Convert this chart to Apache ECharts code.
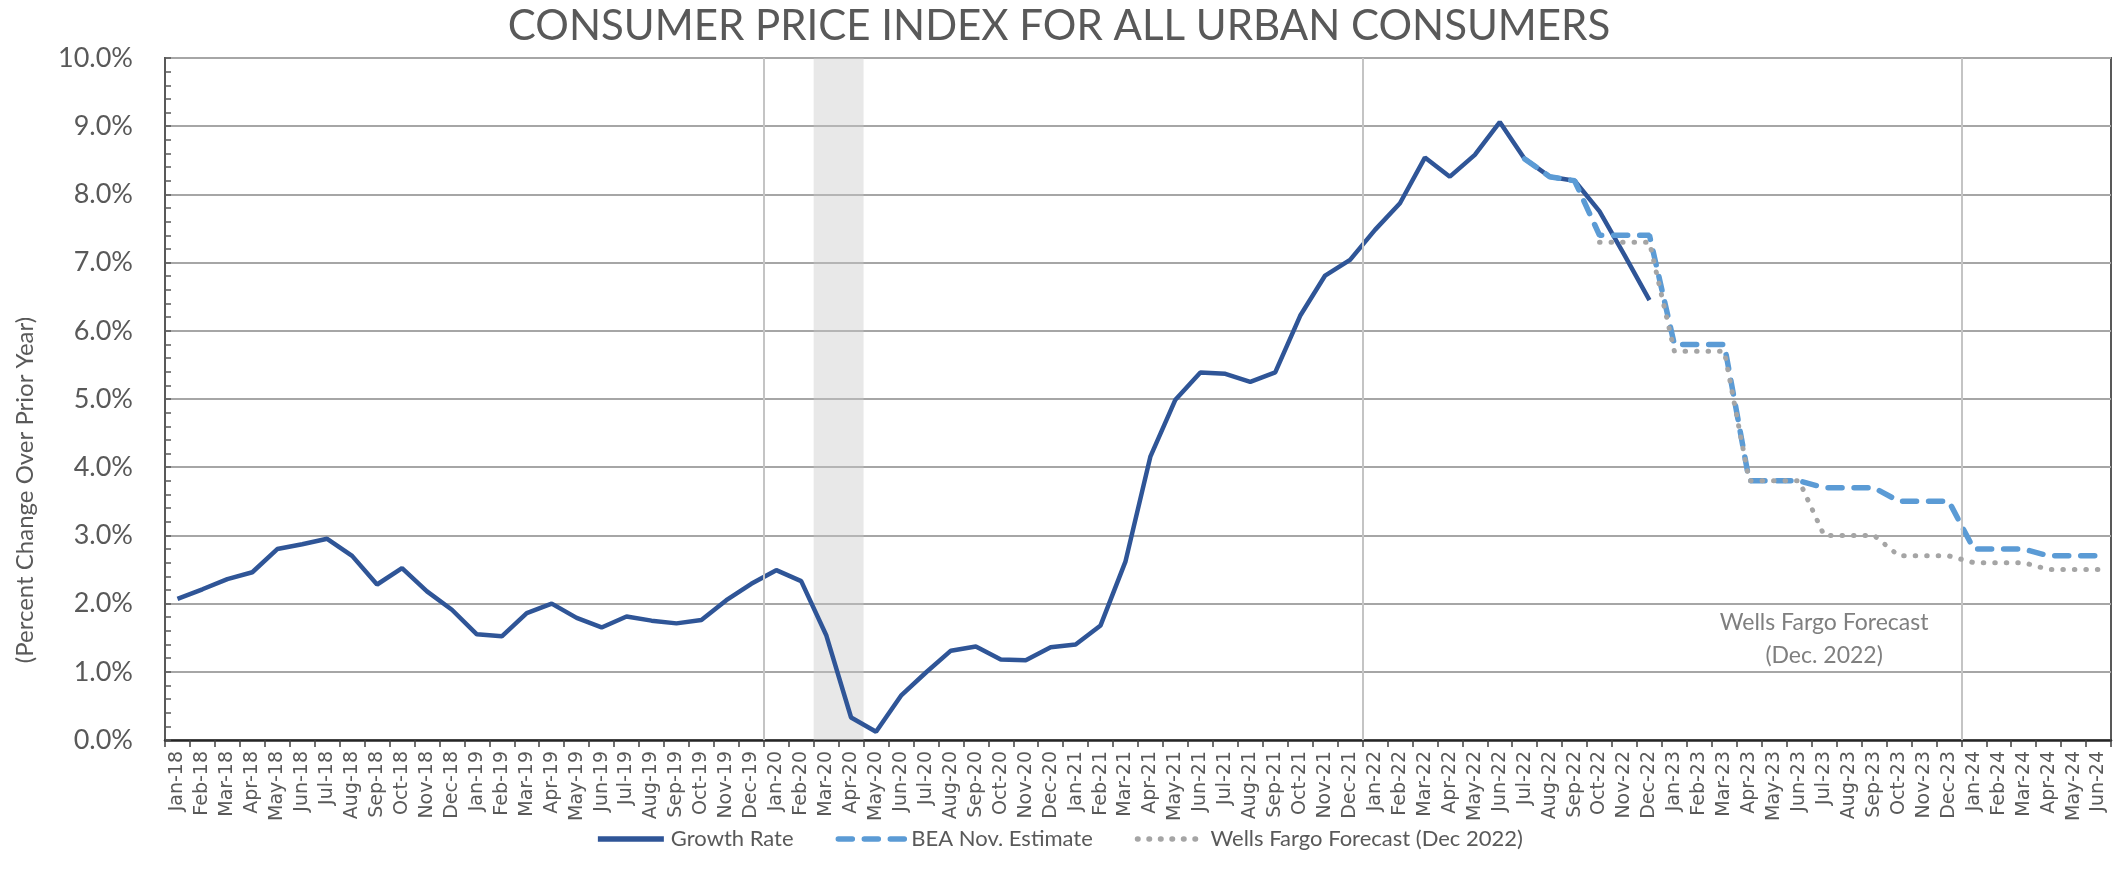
<!DOCTYPE html>
<html>
<head>
<meta charset="utf-8">
<title>Consumer Price Index for All Urban Consumers</title>
<script src="https://cdn.jsdelivr.net/npm/echarts@6/dist/echarts.min.js"></script>
<style>
  html, body { margin: 0; padding: 0; background: #ffffff; }
  #chart { width: 2118px; height: 889px; }
</style>
</head>
<body>
<div id="chart"></div>
<script>
// Monthly categories, Jan-18 through Jun-24
const months = [
  'Jan-18','Feb-18','Mar-18','Apr-18','May-18','Jun-18','Jul-18','Aug-18','Sep-18','Oct-18','Nov-18','Dec-18',
  'Jan-19','Feb-19','Mar-19','Apr-19','May-19','Jun-19','Jul-19','Aug-19','Sep-19','Oct-19','Nov-19','Dec-19',
  'Jan-20','Feb-20','Mar-20','Apr-20','May-20','Jun-20','Jul-20','Aug-20','Sep-20','Oct-20','Nov-20','Dec-20',
  'Jan-21','Feb-21','Mar-21','Apr-21','May-21','Jun-21','Jul-21','Aug-21','Sep-21','Oct-21','Nov-21','Dec-21',
  'Jan-22','Feb-22','Mar-22','Apr-22','May-22','Jun-22','Jul-22','Aug-22','Sep-22','Oct-22','Nov-22','Dec-22',
  'Jan-23','Feb-23','Mar-23','Apr-23','May-23','Jun-23','Jul-23','Aug-23','Sep-23','Oct-23','Nov-23','Dec-23',
  'Jan-24','Feb-24','Mar-24','Apr-24','May-24','Jun-24'
];

// CPI-U, percent change over prior year (Jan-18 .. Dec-22)
const growthRate = [
  2.07, 2.21, 2.36, 2.46, 2.80, 2.87, 2.95, 2.70, 2.28, 2.52, 2.18, 1.91,
  1.55, 1.52, 1.86, 2.00, 1.79, 1.65, 1.81, 1.75, 1.71, 1.76, 2.05, 2.29,
  2.49, 2.33, 1.54, 0.33, 0.12, 0.65, 0.99, 1.31, 1.37, 1.18, 1.17, 1.36,
  1.40, 1.68, 2.62, 4.16, 4.99, 5.39, 5.37, 5.25, 5.39, 6.22, 6.81, 7.04,
  7.48, 7.87, 8.54, 8.26, 8.58, 9.06, 8.52, 8.26, 8.20, 7.75, 7.11, 6.45
];

// BEA November estimate (Jul-22 .. Jun-24)
const beaStart = 'Jul-22';
const beaEstimate = [
  8.52, 8.26, 8.20, 7.40, 7.40, 7.40,
  5.80, 5.80, 5.80, 3.80, 3.80, 3.80, 3.70, 3.70, 3.70, 3.50, 3.50, 3.50,
  2.80, 2.80, 2.80, 2.70, 2.70, 2.70
];

// Wells Fargo forecast, Dec 2022 (Oct-22 .. Jun-24)
const wfStart = 'Oct-22';
const wfForecast = [
  7.30, 7.30, 7.30,
  5.70, 5.70, 5.70, 3.80, 3.80, 3.80, 3.00, 3.00, 3.00, 2.70, 2.70, 2.70,
  2.60, 2.60, 2.60, 2.50, 2.50, 2.50
];

// Recession band (first and last shaded month)
const recession = ['Mar-20', 'Apr-20'];
// Year boundaries that get a vertical rule
const yearRules = ['Jan-20', 'Jan-22', 'Jan-24'];

const yTicks = { min: 0, max: 10, step: 1 };

// Place a partial series on the full month axis
function alignTo(start, values) {
  const out = months.map(() => null);
  const i0 = months.indexOf(start);
  values.forEach((v, k) => { out[i0 + k] = v; });
  return out;
}

const bodyFont = "Lato, 'Open Sans', sans-serif";
const textGray = '#595959';

const chart = echarts.init(document.getElementById('chart'), null, { renderer: 'canvas' });

const ruleIdx = yearRules.map(m => months.indexOf(m));
const bandStart = months.indexOf(recession[0]);
const bandEnd = months.indexOf(recession[1]) + 1;

const option = {
  backgroundColor: '#ffffff',
  animation: false,
  title: {
    text: 'CONSUMER PRICE INDEX FOR ALL URBAN CONSUMERS',
    left: 'center',
    top: 0,
    textStyle: { fontFamily: bodyFont, fontSize: 42, fontWeight: 'normal', color: textGray }
  },
  legend: {
    bottom: 34,
    left: 'center',
    itemWidth: 66,
    itemHeight: 20,
    itemGap: 42,
    itemStyle: { opacity: 0 },
    lineStyle: { width: 5.5 },
    textStyle: { fontFamily: bodyFont, fontSize: 22, color: textGray, padding: [0, 0, 0, 2] },
    data: ['Growth Rate', 'BEA Nov. Estimate', 'Wells Fargo Forecast (Dec 2022)']
  },
  grid: {
    left: 165, right: 7, top: 58, bottom: 149,
    show: true, borderColor: '#595959', borderWidth: 2,
    containLabel: false
  },
  xAxis: [
    {
      type: 'category',
      data: months,
      boundaryGap: true,
      axisLine: { lineStyle: { color: '#262626', width: 2.5 } },
      axisTick: { show: true, interval: 0, length: 7, lineStyle: { color: '#404040', width: 1.5 } },
      axisLabel: {
        interval: 0, rotate: 90, margin: 11,
        fontFamily: "'DejaVu Sans', Verdana, sans-serif", fontSize: 19, color: textGray
      },
      splitLine: { show: false }
    },
    {
      // helper scale in month units for the year rules and the shaded band
      type: 'value',
      position: 'top',
      min: 0, max: months.length,
      axisLine: { show: false },
      axisTick: { show: false },
      axisLabel: { show: false },
      splitLine: { show: false }
    }
  ],
  yAxis: {
    type: 'value',
    min: yTicks.min, max: yTicks.max, interval: yTicks.step,
    axisLine: { show: true, lineStyle: { color: '#595959', width: 2 } },
    axisTick: { show: true, inside: true, length: 6, lineStyle: { color: '#595959', width: 1.5 } },
    minorTick: { show: true, splitNumber: 5, length: 6, lineStyle: { color: '#595959', width: 1.5 } },
    axisLabel: {
      margin: 32,
      formatter: v => v.toFixed(1) + '%',
      fontFamily: bodyFont, fontSize: 27, color: textGray
    },
    splitLine: { show: true, lineStyle: { color: '#a6a6a6', width: 2 } }
  },
  graphic: [
    {
      type: 'text',
      x: 25, y: 490,
      rotation: Math.PI / 2,
      style: {
        text: '(Percent Change Over Prior Year)',
        fontFamily: bodyFont, fontSize: 24, fill: textGray,
        align: 'center', verticalAlign: 'middle'
      }
    }
  ],
  series: [
    {
      // shaded recession band and year rules, in month units
      name: 'band',
      type: 'line',
      xAxisIndex: 1,
      data: [],
      silent: true,
      z: 1,
      markArea: {
        silent: true,
        itemStyle: { color: 'rgba(200,200,200,0.42)' },
        data: [[{ xAxis: bandStart }, { xAxis: bandEnd }]]
      },
      markLine: {
        silent: true,
        symbol: 'none',
        label: { show: false },
        lineStyle: { color: '#c4c4c4', width: 2, type: 'solid' },
        data: ruleIdx.map(i => ({ xAxis: i }))
      }
    },
    {
      name: 'Growth Rate',
      type: 'line',
      data: growthRate,
      symbol: 'none',
      z: 3,
      lineStyle: { color: '#2f5597', width: 4.5 },
      itemStyle: { color: '#2f5597' }
    },
    {
      name: 'BEA Nov. Estimate',
      type: 'line',
      data: alignTo(beaStart, beaEstimate),
      symbol: 'none',
      z: 4,
      lineStyle: { color: '#5b9bd5', width: 5.5, type: [14, 12], cap: 'round' },
      itemStyle: { color: '#5b9bd5' }
    },
    {
      name: 'Wells Fargo Forecast (Dec 2022)',
      type: 'line',
      data: alignTo(wfStart, wfForecast),
      symbol: 'none',
      z: 5,
      lineStyle: { color: '#a5a5a5', width: 5, type: [0.5, 11], cap: 'round' },
      itemStyle: { color: '#a5a5a5' },
      markPoint: {
        symbol: 'rect',
        symbolSize: 1,
        itemStyle: { color: 'rgba(0,0,0,0)' },
        label: {
          show: true,
          position: 'inside',
          formatter: 'Wells Fargo Forecast\n(Dec. 2022)',
          fontFamily: bodyFont, fontSize: 23, lineHeight: 33,
          color: '#7f7f7f', align: 'center'
        },
        data: [{ coord: ['Jul-23', 1.48] }]
      }
    }
  ]
};

chart.setOption(option);
</script>
</body>
</html>
